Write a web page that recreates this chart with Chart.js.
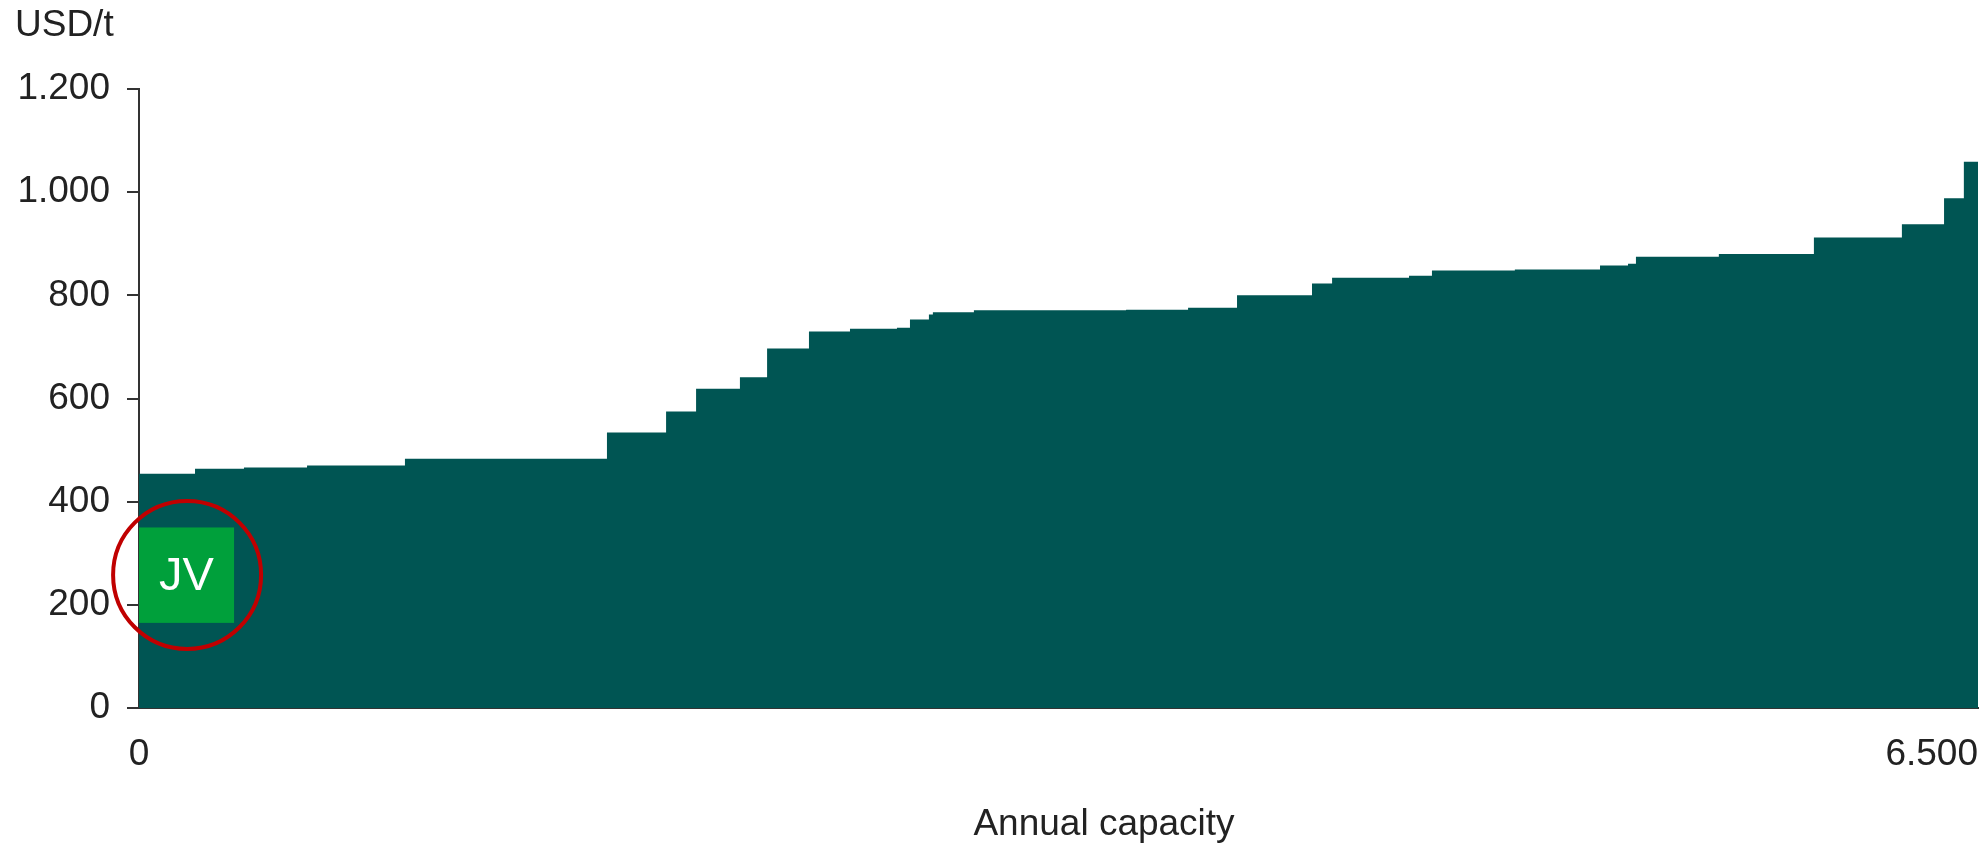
<!DOCTYPE html>
<html>
<head>
<meta charset="utf-8">
<script src="https://cdn.jsdelivr.net/npm/chart.js@4"></script>
<style>
  html, body { margin: 0; padding: 0; background: #fff; }
</style>
</head>
<body>
<canvas id="costCurve" width="1988" height="844"></canvas>
<script>
// plants sorted by cash cost: annual capacity of each and its cost (USD/t)
const capacities = [198, 173, 223, 346, 714, 209, 106, 155, 96, 148, 145, 166, 46, 67, 14, 145, 538,
  219, 173, 265, 71, 272, 81, 293, 301, 99, 28, 293, 336, 311, 149, 70, 50];
const costs = [454, 464, 466, 470, 483, 534, 575, 619, 641, 697, 730, 735, 737, 753, 763, 767, 771,
  772, 776, 800, 823, 834, 838, 848, 850, 858, 861, 875, 880, 912, 938, 988, 1059];
const yTicks = [0, 200, 400, 600, 800, 1000, 1200];
const xTicks = [0, 6500];
// joint venture block and the ring round it
const jvCapacity = [0, 336];
const jvCost = [165, 350];
const jvRing = [170, 258];

const TEAL = '#005553';
const TEXT = '#222222';
const AXIS = '#333333';
const FONT = '"Liberation Sans", Arial, sans-serif';
const FONT_SIZE = 37;

function fmt(v) {
  return String(v).replace(/\B(?=(\d{3})+(?!\d))/g, '.');
}

// each plant starts where the previous one ends; the last point closes the curve
function buildSteps() {
  let cum = 0;
  const pts = costs.map((c, i) => {
    const p = { x: cum, y: c };
    cum += capacities[i];
    return p;
  });
  pts.push({ x: cum, y: costs[costs.length - 1] });
  return pts;
}

const extras = {
  id: 'extras',
  afterDraw(chart) {
    const { ctx, chartArea, scales: { x, y } } = chart;
    ctx.save();

    // JV box
    const l = x.getPixelForValue(jvCapacity[0]);
    const r = x.getPixelForValue(jvCapacity[1]);
    const t = y.getPixelForValue(jvCost[1]);
    const b = y.getPixelForValue(jvCost[0]);
    ctx.fillStyle = '#00a03b';
    ctx.fillRect(l, t, r - l, b - t);
    ctx.fillStyle = '#ffffff';
    ctx.font = '47px ' + FONT;
    ctx.textAlign = 'center';
    ctx.textBaseline = 'middle';
    ctx.fillText('JV', (l + r) / 2, (t + b) / 2 + 2);

    ctx.beginPath();
    ctx.arc(x.getPixelForValue(jvRing[0]), y.getPixelForValue(jvRing[1]), 74, 0, Math.PI * 2);
    ctx.strokeStyle = '#c00000';
    ctx.lineWidth = 4;
    ctx.stroke();

    // x tick labels: first centred, last flush with the axis end
    ctx.fillStyle = TEXT;
    ctx.font = FONT_SIZE + 'px ' + FONT;
    ctx.textBaseline = 'middle';
    xTicks.forEach((v, i) => {
      ctx.textAlign = i === xTicks.length - 1 ? 'right' : 'center';
      ctx.fillText(fmt(v), x.getPixelForValue(v), chartArea.bottom + 47);
    });

    // axis titles
    ctx.textAlign = 'left';
    ctx.textBaseline = 'alphabetic';
    ctx.fillText('USD/t', 15, 36);
    ctx.textAlign = 'center';
    ctx.fillText('Annual capacity', 1104, 835);

    ctx.restore();
  }
};

new Chart(document.getElementById('costCurve').getContext('2d'), {
  type: 'line',
  data: {
    datasets: [{
      data: buildSteps(),
      stepped: 'before',
      fill: 'origin',
      backgroundColor: TEAL,
      borderColor: TEAL,
      borderWidth: 0,
      pointRadius: 0
    }]
  },
  options: {
    responsive: false,
    animation: false,
    devicePixelRatio: 1,
    layout: { padding: { top: 89, right: 10, left: 0, bottom: 0 } },
    plugins: { legend: { display: false }, tooltip: { enabled: false } },
    scales: {
      x: {
        type: 'linear',
        min: 0,
        max: 6500,
        grid: { display: false },
        border: { display: true, color: AXIS, width: 2 },
        ticks: { display: false },
        afterFit(scale) { scale.height = 136; }
      },
      y: {
        min: 0,
        max: 1200,
        afterBuildTicks(scale) { scale.ticks = yTicks.map(v => ({ value: v })); },
        ticks: {
          callback: v => fmt(v),
          color: TEXT,
          font: { family: FONT, size: FONT_SIZE },
          padding: 17
        },
        grid: { drawOnChartArea: false, tickLength: 12, color: AXIS, lineWidth: 2 },
        border: { display: true, color: AXIS, width: 2 },
        afterFit(scale) { scale.width = 139; }
      }
    }
  },
  plugins: [extras]
});
</script>
</body>
</html>
